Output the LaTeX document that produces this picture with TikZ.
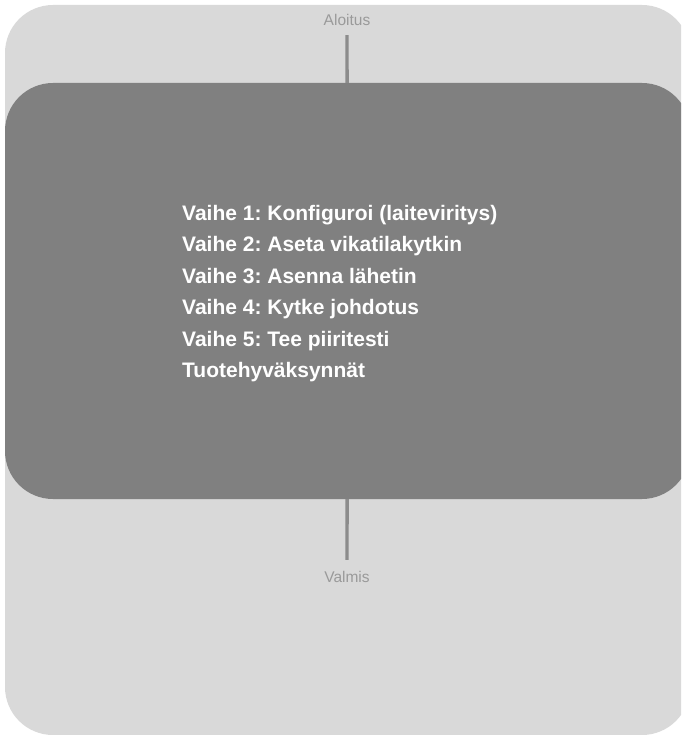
\documentclass[tikz,border=0pt]{standalone}
\usepackage{fontspec}
\setmainfont{Liberation Sans}
\frenchspacing
\definecolor{outerbg}{HTML}{D9D9D9}
\definecolor{boxbg}{HTML}{808080}
\definecolor{connector}{HTML}{8C8C8C}
\definecolor{labelgray}{HTML}{9A9A9A}
\begin{document}
\begin{tikzpicture}[x=1pt,y=-1pt,
  panel/.style={fill=outerbg, rounded corners=48pt},
  mainbox/.style={fill=boxbg, draw=none, rounded corners=48pt, minimum width=685pt, minimum height=416pt, inner sep=0pt},
  endlabel/.style={text=labelgray, font=\fontsize{15.5}{18}\selectfont, inner sep=0pt, minimum width=60pt},
  steps/.style={text=white, font=\fontsize{21}{31.4}\selectfont\bfseries, align=left, inner sep=0pt, anchor=west},
  link/.style={draw=connector, line width=3.3pt}
]
\useasboundingbox (0,0) rectangle (681,735);
\begin{scope}
\clip (0,0) rectangle (681,735);
\fill[panel] (5,5) rectangle (690,735);
\node[mainbox] (box) at (347.5,291) {};
\end{scope}
\node[steps] (list) at (182,293.5) {Vaihe 1: Konfiguroi (laiteviritys)\\
Vaihe 2: Aseta vikatilakytkin\\
Vaihe 3: Asenna lähetin\\
Vaihe 4: Kytke johdotus\\
Vaihe 5: Tee piiritesti\\
Tuotehyväksynnät};
\node[endlabel, minimum height=30pt] (start) at (347,20) {Aloitus};
\node[endlabel, minimum height=34pt] (finish) at (347,577) {Valmis};
\draw[link] (start) -- (box);
\draw[link] (box) -- (finish);
\end{tikzpicture}
\end{document}
